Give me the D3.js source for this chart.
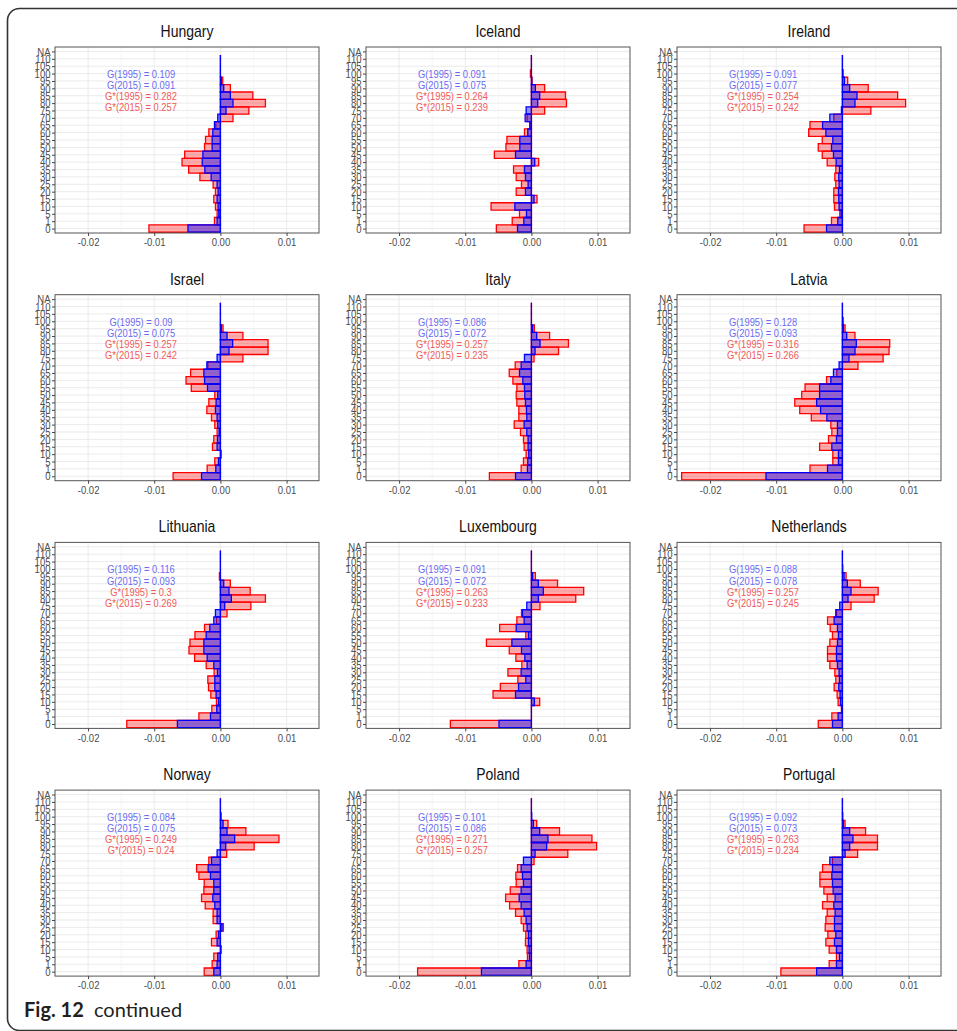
<!DOCTYPE html>
<html>
<head>
<meta charset="utf-8">
<script src="https://cdn.jsdelivr.net/npm/d3@7"></script>
<style>
  body { margin: 0; background: #fff; }
  svg { display: block; font-family: "Liberation Sans", Arial, sans-serif; }
</style>
</head>
<body>
<div id="chart"></div>
<script>
// age groups, top to bottom (NA has no bar)
var ages = ["NA","110","105","100","95","90","85","80","75","70","65","60","55","50","45","40","35","30","25","20","15","10","5","1","0"];
var countries = ["Hungary","Iceland","Ireland","Israel","Italy","Latvia","Lithuania","Luxembourg","Netherlands","Norway","Poland","Portugal"];
var xTicks = [-0.02, -0.01, 0, 0.01];

// index labels per country
var g1995  = [0.109, 0.091, 0.091, 0.09, 0.086, 0.128, 0.116, 0.091, 0.088, 0.084, 0.101, 0.092];
var g2015  = [0.091, 0.075, 0.077, 0.075, 0.072, 0.093, 0.093, 0.072, 0.078, 0.075, 0.086, 0.073];
var gs1995 = [0.282, 0.264, 0.254, 0.257, 0.257, 0.316, 0.3, 0.263, 0.257, 0.249, 0.271, 0.263];
var gs2015 = [0.257, 0.239, 0.242, 0.242, 0.235, 0.266, 0.269, 0.233, 0.245, 0.24, 0.257, 0.234];

// contributions by age group, 110 down to 0 (red = G*, blue = G)
var hungaryStar = [0, 0, 0, 0.00035, 0.0015, 0.0049, 0.0068, 0.0043, 0.0019, -0.0007, -0.00175, -0.00225, -0.0024, -0.0054, -0.0058, -0.0048, -0.0031, -0.0011, -0.00075, -0.001, -0.00075, -0.0005, -0.0009, -0.0108];
var hungaryG    = [0, 0, 0, 0.00015, 0.0005, 0.0015, 0.0019, 0.00085, -0.0004, -0.0009, -0.00115, -0.00125, -0.00125, -0.00265, -0.00275, -0.00235, -0.0014, -0.0005, -0.00035, -0.0005, -0.00035, -0.00025, -0.0005, -0.0049];
var icelandStar = [0, 0, -0.00015, 0.0001, 0.002, 0.00515, 0.0053, 0.002, -0.00065, -0.0001, -0.00105, -0.0037, -0.00385, -0.0056, 0.0011, -0.0027, -0.0023, -0.0015, -0.0023, 0.00085, -0.0061, -0.0018, -0.0029, -0.0053];
var icelandG    = [0, 0, 0, 0.00005, 0.0006, 0.00125, 0.00095, -0.0008, -0.00095, -0.00025, -0.00055, -0.00175, -0.00175, -0.0024, 0.0005, -0.00105, -0.0009, -0.0005, -0.0009, 0.0004, -0.0025, -0.00075, -0.00115, -0.0021];
var irelandStar = [0, 0, 0, 0.0008, 0.0039, 0.00835, 0.00955, 0.0043, -0.0013, -0.0049, -0.0051, -0.00305, -0.00365, -0.00305, -0.0023, -0.001, -0.00115, -0.001, -0.0013, -0.0013, -0.0012, -0.0004, -0.00165, -0.0058];
var irelandG    = [0, 0, 0.0001, 0.0003, 0.0011, 0.0022, 0.0019, -0.00015, -0.0019, -0.003, -0.0025, -0.00145, -0.00165, -0.00135, -0.00095, -0.00045, -0.00055, -0.0005, -0.0006, -0.00055, -0.0005, -0.0002, -0.0007, -0.0024];
var israelStar  = [0, 0, 0, 0.0004, 0.0034, 0.0072, 0.0072, 0.0034, -0.0019, -0.0045, -0.0052, -0.0044, -0.00085, -0.00175, -0.00205, -0.00135, -0.00085, -0.0005, -0.001, -0.0012, 0.0001, -0.00085, -0.002, -0.00715];
var israelG     = [0, 0, 0, 0.00015, 0.001, 0.00185, 0.0013, -0.0005, -0.00205, -0.0025, -0.0024, -0.00195, -0.0004, -0.00065, -0.00075, -0.0005, -0.0004, -0.0002, -0.00045, -0.0005, 0.00005, -0.0003, -0.0007, -0.00285];
var italyStar   = [0, 0, 0, 0.00045, 0.00275, 0.0056, 0.0041, 0.0004, -0.00245, -0.00335, -0.0028, -0.0022, -0.0023, -0.0022, -0.0019, -0.0019, -0.0026, -0.00165, -0.0012, -0.0011, -0.0008, -0.0012, -0.00155, -0.00635];
var italyG      = [0, 0, 0, 0.0002, 0.0008, 0.0013, 0.00055, -0.00105, -0.00155, -0.0018, -0.0013, -0.00105, -0.001, -0.0009, -0.00075, -0.0007, -0.0011, -0.0007, -0.0005, -0.0005, -0.0004, -0.00055, -0.0006, -0.0024];
var latviaStar  = [0, 0, 0, 0.0004, 0.0019, 0.00715, 0.00705, 0.00615, 0.00235, -0.00085, -0.0024, -0.00565, -0.00615, -0.0072, -0.00645, -0.0047, -0.00175, -0.0016, -0.0021, -0.00345, -0.00145, -0.00145, -0.0049, -0.0243];
var latviaG     = [0, 0, 0.0001, 0.00015, 0.00065, 0.0021, 0.0019, 0.001, -0.0005, -0.00135, -0.00175, -0.00345, -0.00345, -0.0039, -0.0033, -0.00235, -0.00075, -0.00075, -0.0009, -0.0016, -0.0006, -0.0006, -0.00225, -0.01155];
var lithuaniaStar = [0, 0, 0, -0.00015, 0.0015, 0.0045, 0.0068, 0.0046, 0.001, -0.0006, -0.0024, -0.00385, -0.0046, -0.00475, -0.0039, -0.00215, -0.00095, -0.0019, -0.0018, -0.00145, -0.0006, -0.0013, -0.00325, -0.01415];
var lithuaniaG    = [0, 0, 0, 0, 0.0005, 0.0013, 0.00165, 0.00065, -0.00075, -0.001, -0.0016, -0.00215, -0.0025, -0.0025, -0.002, -0.001, -0.00045, -0.00085, -0.00085, -0.00065, -0.0003, -0.00055, -0.0015, -0.0065];
var luxembourgStar = [0, 0, 0, 0.0006, 0.00395, 0.0079, 0.0067, 0.0013, -0.0015, -0.0022, -0.0048, -0.00085, -0.0068, -0.00335, -0.00235, -0.00145, -0.00355, -0.00205, -0.0047, -0.0058, 0.00125, 0, 0, -0.01225];
var luxembourgG    = [0, 0, 0, 0.0002, 0.00105, 0.0018, 0.00105, -0.0007, -0.00135, -0.0011, -0.0023, -0.00045, -0.00295, -0.0015, -0.001, -0.00065, -0.00155, -0.00085, -0.00195, -0.0024, 0.00045, 0, 0, -0.0049];
var netherlandsStar = [0, 0, 0, 0.00055, 0.0027, 0.0054, 0.0048, 0.0013, -0.0009, -0.00225, -0.00185, -0.0015, -0.0019, -0.00225, -0.00225, -0.0019, -0.00115, -0.001, -0.00125, -0.0008, -0.00065, -0.00015, -0.0016, -0.00365];
var netherlandsG    = [0, 0, 0.00005, 0.00025, 0.00075, 0.0013, 0.00085, -0.0004, -0.001, -0.00125, -0.00075, -0.0006, -0.00075, -0.0009, -0.0009, -0.00075, -0.0005, -0.00045, -0.00055, -0.00035, -0.0003, -0.0001, -0.00065, -0.0015];
var norwayStar  = [0, 0, 0, 0.00115, 0.00385, 0.00885, 0.0051, 0.00095, -0.00175, -0.0036, -0.00325, -0.00245, -0.0025, -0.00285, -0.0023, -0.0011, -0.0011, 0.00045, -0.00065, -0.00135, 0.0001, -0.001, -0.00125, -0.00245];
var norwayG     = [0, 0, 0.0001, 0.0004, 0.001, 0.00215, 0.0008, -0.0005, -0.00135, -0.00185, -0.0015, -0.001, -0.001, -0.00115, -0.00085, -0.0005, -0.0005, 0.00025, -0.0003, -0.0005, 0.00005, -0.0004, -0.0005, -0.001];
var polandStar  = [0, 0, 0, 0.0008, 0.00425, 0.00915, 0.00985, 0.0055, 0.0004, -0.0021, -0.00235, -0.0023, -0.0032, -0.0039, -0.0033, -0.0024, -0.00155, -0.0012, -0.00085, -0.0009, -0.00065, -0.0006, -0.0019, -0.0172];
var polandG     = [0, 0, 0.00005, 0.0003, 0.00125, 0.0025, 0.0023, 0.00055, -0.0012, -0.00155, -0.00135, -0.0012, -0.00155, -0.00185, -0.00155, -0.0011, -0.0008, -0.00065, -0.00045, -0.00045, -0.00035, -0.0003, -0.0008, -0.00755];
var portugalStar = [0, 0, 0, 0.0004, 0.0035, 0.0053, 0.0053, 0.0023, -0.0015, -0.003, -0.0034, -0.0034, -0.0028, -0.0023, -0.003, -0.0023, -0.0025, -0.0026, -0.0022, -0.0025, -0.002, -0.0009, -0.002, -0.0093];
var portugalG    = [0, 0, 0.00005, 0.00015, 0.0011, 0.0016, 0.0011, 0.0004, -0.0019, -0.0015, -0.0016, -0.0015, -0.0014, -0.0011, -0.0013, -0.0011, -0.0012, -0.0012, -0.001, -0.0012, -0.0009, -0.00045, -0.0009, -0.0039];

var starSeries = [hungaryStar, icelandStar, irelandStar, israelStar, italyStar, latviaStar, lithuaniaStar, luxembourgStar, netherlandsStar, norwayStar, polandStar, portugalStar];
var gSeries    = [hungaryG, icelandG, irelandG, israelG, italyG, latviaG, lithuaniaG, luxembourgG, netherlandsG, norwayG, polandG, portugalG];

var width = 957, height = 1031;
var colX = [55, 366, 677], panelW = 264;
var rowY = [47, 294.7, 542.4, 790.1], panelH = 186;

var svg = d3.select("#chart").append("svg")
  .attr("width", width)
  .attr("height", height);

svg.append("rect").attr("width", width).attr("height", height).attr("fill", "#fff");

// figure frame
svg.append("rect")
  .attr("x", 7.5).attr("y", 8.5)
  .attr("width", 1000).attr("height", 1022)
  .attr("rx", 12)
  .attr("fill", "none")
  .attr("stroke", "#333")
  .attr("stroke-width", 1.6);

var fmt = function(d) { return d3.format(".2f")(d).replace("\u2212", "-"); };

// the source figure text is squeezed horizontally
function squeeze(sel, sx) {
  sel.each(function() {
    var tx = +this.getAttribute("x") || 0;
    this.setAttribute("transform", "translate(" + tx + ",0) scale(" + sx + ",1) translate(" + (-tx) + ",0)");
  });
}

function barPath(x, y, step, v) {
  var x0 = x(0), x1 = x(v);
  var y0 = y - step / 2, y1 = y + step / 2;
  return "M" + x0 + "," + y0 + "H" + x1 + "V" + y1 + "H" + x0 + "Z";
}

countries.forEach(function(name, i) {
  var col = i % 3, row = Math.floor(i / 3);
  var left = colX[col], top = rowY[row];

  var x = d3.scaleLinear().domain([-0.025, 0.0149]).range([left, left + panelW]);
  var y = d3.scalePoint().domain(ages).range([top, top + panelH]).padding(0.6);
  var step = y.step();

  var g = svg.append("g").attr("class", "panel");

  // grid
  g.selectAll(".hgrid").data(ages).enter().append("line")
    .attr("x1", left).attr("x2", left + panelW)
    .attr("y1", function(d) { return y(d); }).attr("y2", function(d) { return y(d); })
    .attr("stroke", "#ebebeb").attr("stroke-width", 1);
  g.selectAll(".vminor").data([-0.015, -0.005, 0.005]).enter().append("line")
    .attr("x1", x).attr("x2", x)
    .attr("y1", top).attr("y2", top + panelH)
    .attr("stroke", "#f2f2f2").attr("stroke-width", 0.8);
  g.selectAll(".vgrid").data(xTicks).enter().append("line")
    .attr("x1", x).attr("x2", x)
    .attr("y1", top).attr("y2", top + panelH)
    .attr("stroke", "#ebebeb").attr("stroke-width", 1);

  var rows = ages.slice(1).map(function(a, k) {
    return { age: a, star: starSeries[i][k], g: gSeries[i][k] };
  });

  // G* bars
  g.selectAll(".star").data(rows).enter().append("path")
    .attr("d", function(d) { return barPath(x, y(d.age), step, d.star); })
    .attr("fill", "rgba(255,0,0,0.33)")
    .attr("stroke", "#ff0000")
    .attr("stroke-width", 1.3);

  // G bars
  g.selectAll(".gbar").data(rows).enter().append("path")
    .attr("d", function(d) { return barPath(x, y(d.age), step, d.g); })
    .attr("fill", "rgba(0,0,255,0.42)")
    .attr("stroke", "#0000ff")
    .attr("stroke-width", 1.3);

  // border
  g.append("rect")
    .attr("x", left).attr("y", top)
    .attr("width", panelW).attr("height", panelH)
    .attr("fill", "none").attr("stroke", "#555").attr("stroke-width", 1);

  // axes
  var ya = g.append("g")
    .attr("transform", "translate(" + left + ",0)")
    .call(d3.axisLeft(y).tickSize(3).tickPadding(1.5));
  var xa = g.append("g")
    .attr("transform", "translate(0," + (top + panelH) + ")")
    .call(d3.axisBottom(x).tickValues(xTicks).tickFormat(fmt).tickSize(3).tickPadding(2));
  [ya, xa].forEach(function(a) {
    a.select(".domain").remove();
    a.selectAll("line").attr("stroke", "#444");
    a.selectAll("text")
      .attr("fill", "#4d4d4d")
      .style("font-size", "11.5px")
      .style("font-family", "'Liberation Sans', Arial, sans-serif")
      .call(squeeze, 0.83);
  });

  // title
  g.append("text")
    .attr("x", left + panelW / 2).attr("y", top - 10)
    .attr("text-anchor", "middle")
    .attr("fill", "#111")
    .style("font-size", "16px")
    .text(name)
    .call(squeeze, 0.875);

  // G labels
  var labels = [
    { t: "G(1995) = " + g1995[i], c: "#6b6bf2" },
    { t: "G(2015) = " + g2015[i], c: "#6b6bf2" },
    { t: "G*(1995) = " + gs1995[i], c: "#f05a5a" },
    { t: "G*(2015) = " + gs2015[i], c: "#f05a5a" }
  ];
  g.selectAll(".lab").data(labels).enter().append("text")
    .attr("x", x(-0.012))
    .attr("y", function(d, k) { return y("NA") + (3.05 + 1.5 * k) * step; })
    .attr("dy", "0.36em")
    .attr("text-anchor", "middle")
    .attr("fill", function(d) { return d.c; })
    .style("font-size", "11.4px")
    .text(function(d) { return d.t; })
    .call(squeeze, 0.82);
});

// caption
var cap = svg.append("text")
  .attr("x", 24).attr("y", 1017)
  .attr("fill", "#231f20")
  .style("font-family", "Lato, sans-serif")
  .style("font-size", "20px");
cap.append("tspan").style("font-weight", "bold").text("Fig. 12");
cap.append("tspan").text("\u00a0 continued");
</script>
</body>
</html>
